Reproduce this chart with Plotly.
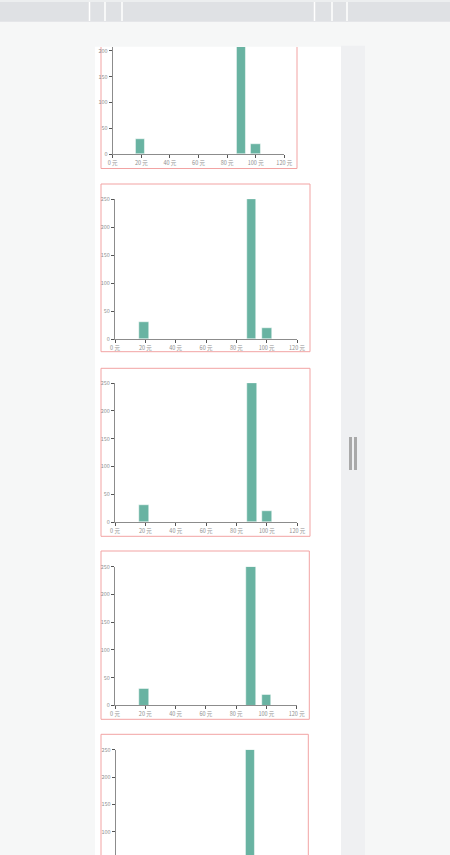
import plotly.graph_objects as go

# ---- data ----
bin_centers = [19, 90, 100]
counts = [30, 250, 20]
bin_width = 6.4
x_tick_vals = [0, 20, 40, 60, 80, 100, 120]
x_tick_text = ["0 元", "20 元", "40 元", "60 元", "80 元", "100 元", "120 元"]
y_tick_vals = [0, 50, 100, 150, 200, 250]

W, H = 450, 855
def fx(p): return p / W
def fy(p): return 1 - p / H

BAR = "#69b3a2"
AXIS = "#8c8c8c"
TXT = "#8f8f8f"
FONT = "Noto Sans CJK SC, Liberation Sans, sans-serif"

# chart pixel geometry: (x of 0, x of 120, y px bottom, y px top, value bottom, value top, show x axis)
charts = [
    (112.7, 284.3, 154.3, 47.0, 0, (154.3 - 47.0) / 0.518, True),
    (115.0, 297.0, 339.0, 199.0, 0, 250, True),
    (115.0, 297.3, 522.0, 383.0, 0, 250, True),
    (115.0, 296.7, 705.3, 566.7, 0, 250, True),
    (115.7, 295.0, 855.0, 749.7, 250 - (855 - 749.7) / 0.546, 250, False),
]
boxes = [  # x0, x1, y0, y1 (px); first one clipped at top
    (101, 297, 47, 168.5),
    (101, 310, 184, 351.7),
    (101, 310, 368.3, 536.3),
    (101, 309.3, 551, 719.3),
    (101, 308.3, 734.3, 900),
]

fig = go.Figure()
layout = dict(
    template="none",
    width=W, height=H, margin=dict(l=0, r=0, t=0, b=0, pad=0, autoexpand=False),
    paper_bgcolor="#f6f7f7", plot_bgcolor="rgba(0,0,0,0)",
    showlegend=False, bargap=0,
    font=dict(family=FONT, size=5.5, color=TXT),
)

shapes = []
# page header
shapes.append(dict(type="rect", xref="paper", yref="paper", x0=0, x1=1, y0=fy(21.7), y1=fy(2),
                   fillcolor="#dfe1e4", line=dict(width=0), layer="below"))
shapes.append(dict(type="rect", xref="paper", yref="paper", x0=0, x1=1, y0=fy(2), y1=1,
                   fillcolor="#eceeef", line=dict(width=0), layer="below"))
for sx in [89.5, 105, 122, 314.5, 332, 347]:
    shapes.append(dict(type="line", xref="paper", yref="paper", x0=fx(sx), x1=fx(sx),
                       y0=fy(21), y1=fy(2), line=dict(color="white", width=1.5), layer="below"))
# white panel and right strip
shapes.append(dict(type="rect", xref="paper", yref="paper", x0=fx(95), x1=fx(341), y0=0, y1=fy(46.7),
                   fillcolor="white", line=dict(width=0), layer="below"))
shapes.append(dict(type="rect", xref="paper", yref="paper", x0=fx(341), x1=fx(365), y0=0, y1=fy(45.7),
                   fillcolor="#eff0f2", line=dict(width=0), layer="below"))
for hx in [(349, 352), (354, 357)]:
    shapes.append(dict(type="rect", xref="paper", yref="paper", x0=fx(hx[0]), x1=fx(hx[1]),
                       y0=fy(470), y1=fy(437), fillcolor="#a9a9a9", line=dict(width=0), layer="below"))
# red boxes
for i, (bx0, bx1, by0, by1) in enumerate(boxes):
    c = dict(color="#f2a3a3", width=1)
    if i == 0:
        for seg in [(bx0, by0, bx0, by1), (bx1, by0, bx1, by1), (bx0, by1, bx1, by1)]:
            shapes.append(dict(type="line", xref="paper", yref="paper", x0=fx(seg[0]), y0=fy(seg[1]),
                               x1=fx(seg[2]), y1=fy(seg[3]), line=c, layer="below"))
    else:
        shapes.append(dict(type="rect", xref="paper", yref="paper", x0=fx(bx0), x1=fx(bx1),
                           y0=fy(min(by1, H)) if by1 < H else -0.05, y1=fy(by0), line=c,
                           fillcolor="rgba(0,0,0,0)", layer="below"))

for i, (x0, x120, ybot, ytop, vbot, vtop, showx) in enumerate(charts):
    n = "" if i == 0 else str(i + 1)
    fig.add_trace(go.Bar(
        x=bin_centers, y=counts, width=bin_width, xaxis="x" + n, yaxis="y" + n,
        marker=dict(color=BAR, line=dict(color="white", width=0.5)),
    ))
    layout["xaxis" + n] = dict(
        domain=[fx(x0), fx(x120)], range=[0, 120], anchor="y" + n, automargin=False,
        tickvals=x_tick_vals, ticktext=x_tick_text, showgrid=False, zeroline=False,
        showline=showx, linecolor=AXIS, linewidth=1, ticks="outside" if showx else "",
        ticklen=3, tickcolor="#555", tickwidth=1, showticklabels=showx,
        tickfont=dict(size=5.5, color=TXT),
    )
    layout["yaxis" + n] = dict(
        domain=[fy(ybot), fy(ytop)], range=[vbot, vtop], anchor="x" + n, automargin=False,
        tickvals=y_tick_vals, showgrid=False, zeroline=False,
        showline=True, linecolor=AXIS, linewidth=1, ticks="outside",
        ticklen=3, tickcolor="#555", tickwidth=1, tickfont=dict(size=5.5, color=TXT),
    )

layout["shapes"] = shapes
fig.update_layout(**layout)
fig.write_html("out.html", post_script="document.body.style.margin='0';")
